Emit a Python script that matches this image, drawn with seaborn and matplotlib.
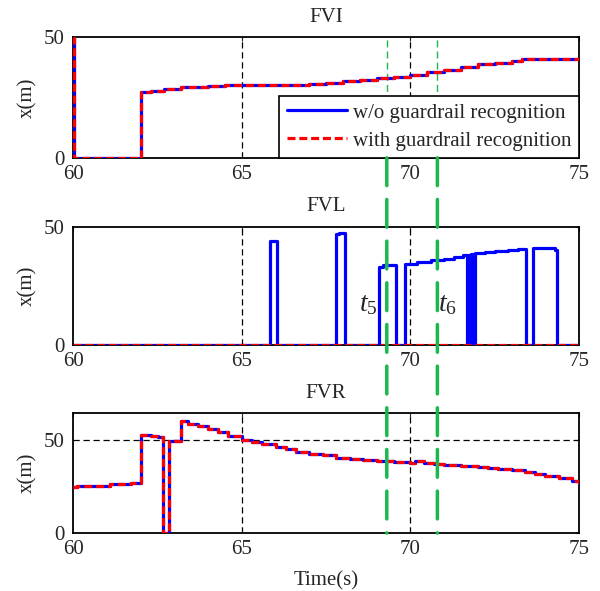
import numpy as np
import pandas as pd
import matplotlib.pyplot as plt
from matplotlib.patches import ConnectionPatch
import seaborn as sns

#%% data

# FVI (both series identical)
fvi_time = [60.0, 60.02, 62.0, 62.3, 62.7, 63.2, 63.5, 64.0, 64.5, 65.2, 66.0,
            67.0, 67.5, 68.0, 68.5, 69.0, 69.5, 70.0, 70.5, 71.0, 71.5, 72.0,
            72.5, 73.0, 73.3, 75.0]
fvi_x = [50.0, 0.0, 27.2, 27.8, 28.5, 29.2, 29.5, 29.8, 30.0, 30.2, 30.2,
         30.4, 31.0, 31.8, 32.4, 33.0, 33.7, 34.5, 35.5, 36.6, 37.7, 38.7,
         39.5, 40.3, 40.8, 40.8]

# FVL without guardrail recognition
fvl_time = [60.0, 65.85, 66.05, 67.79, 67.87, 68.07, 69.07, 69.2, 69.58,
            69.83, 70.2, 70.6, 71.0, 71.3, 71.55, 71.67, 71.72, 71.76, 71.80,
            71.85, 71.91, 72.2, 72.5, 72.9, 73.2, 73.43, 73.63, 74.3, 74.36, 75.0]
fvl_x_wo = [0.0, 43.9, 0.0, 46.7, 47.2, 0.0, 33.1, 33.6, 0.0,
            34.4, 35.0, 35.7, 36.5, 37.2, 38.0, 0.0, 38.2, 0.0, 38.5,
            0.0, 38.9, 39.3, 39.7, 40.2, 40.7, 0.0, 41.0, 40.3, 0.0, 0.0]
# FVL with guardrail recognition
fvl_time_with = [60.0, 75.0]
fvl_x_with = [0.0, 0.0]

# FVR (both series identical)
fvr_time = [60.0, 60.1, 61.1, 61.7, 62.0, 62.3, 62.5, 62.67, 62.83, 63.0,
            63.21, 63.4, 63.7, 64.0, 64.3, 64.6, 65.0, 65.3, 65.6, 66.0, 66.3,
            66.6, 67.0, 67.4, 67.8, 68.2, 68.6, 69.0, 69.5, 70.0, 70.15, 70.4,
            70.7, 71.0, 71.5, 72.0, 72.3, 72.6, 73.0, 73.4, 73.7, 74.0, 74.4,
            74.8, 75.0]
fvr_x = [24.6, 25.3, 26.0, 26.8, 52.7, 51.8, 51.2, 0.0, 49.5, 49.0,
         59.8, 58.5, 57.0, 55.4, 53.9, 52.0, 50.0, 48.8, 47.5, 45.8, 44.7,
         43.6, 42.5, 41.5, 40.3, 39.8, 39.2, 38.5, 38.0, 37.3, 38.5, 37.5,
         37.0, 36.5, 36.0, 35.6, 35.0, 34.4, 33.8, 32.8, 31.5, 30.3, 29.2,
         27.8, 26.5]

ref_times = [65, 70]      # black dashed reference lines
t_marks = [69.3, 70.8]    # t5, t6
t_labels = ["$t_5$", "$t_6$"]
fvr_ref = 50

titles = ["FVI", "FVL", "FVR"]
ylims = [(0, 50), (0, 50), (0, 64)]

#%% style

sns.set_style("white")
plt.rcParams['font.family'] = ['Liberation Serif', 'DejaVu Serif']
plt.rcParams['mathtext.fontset'] = 'custom'
plt.rcParams['mathtext.rm'] = 'Liberation Serif'
plt.rcParams['mathtext.it'] = 'Liberation Serif:italic'
plt.rcParams['font.size'] = 15

blue = (0, 0, 1)
red = (1, 0, 0)
green = (0.1, 0.72, 0.3)
fs = 15

fig = plt.figure(figsize=(6, 5.91), dpi=100)
ax1 = fig.add_axes([0.122, 0.733, 0.843, 0.204])
ax2 = fig.add_axes([0.122, 0.416, 0.843, 0.2007])
ax3 = fig.add_axes([0.122, 0.098, 0.843, 0.2025])
axes = [ax1, ax2, ax3]

wo = dict(color=blue, linewidth=2.3, drawstyle="steps-post", estimator=None, sort=False)
wi = dict(color=red, linewidth=2.3, drawstyle="steps-post", estimator=None, sort=False,
          linestyle=(0, (2.5, 1.2)))

sns.lineplot(x=fvi_time, y=fvi_x, ax=ax1, label="w/o guardrail recognition", zorder=3, **wo)
sns.lineplot(x=fvi_time, y=fvi_x, ax=ax1, label="with guardrail recognition", zorder=4, **wi)

sns.lineplot(x=fvl_time, y=fvl_x_wo, ax=ax2, zorder=3, **wo)
sns.lineplot(x=fvl_time_with, y=fvl_x_with, ax=ax2, zorder=4, **wi)

sns.lineplot(x=fvr_time, y=fvr_x, ax=ax3, zorder=3, **wo)
sns.lineplot(x=fvr_time, y=fvr_x, ax=ax3, zorder=4, **wi)

for ax, title, yl in zip(axes, titles, ylims):
    for t in ref_times:
        ax.axvline(t, color="k", linewidth=0.9, linestyle=(0, (5, 3)), zorder=2)
    ax.set_xlim(60, 75)
    ax.set_ylim(*yl)
    ax.set_xticks([60, 65, 70, 75])
    ax.set_yticks([0, 50])
    ax.set_title(title, fontsize=fs, pad=11)
    ax.set_ylabel("x(m)", fontsize=fs, labelpad=4)
    ax.tick_params(direction="in", length=3, width=0.8, top=True, right=True,
                   labelsize=fs)
    ax.tick_params(axis="x", pad=5)
    ax.tick_params(axis="y", pad=6.5)
    for sp in ax.spines.values():
        sp.set_color("k")
        sp.set_linewidth(1.3)
    if ax.get_legend() is not None and ax is not ax1:
        ax.get_legend().remove()

ax3.axhline(fvr_ref, color="k", linewidth=0.9, linestyle=(0, (5, 3)), zorder=2)
ax3.set_xlabel("Time(s)", fontsize=fs, labelpad=9)

# thin green markers inside the top panel
for t in t_marks:
    ax1.axvline(t, color=green, linewidth=1.0, linestyle=(0, (5, 3)), zorder=1)

leg = ax1.legend(loc="lower right", borderaxespad=0, fontsize=fs, frameon=True,
                 fancybox=False, framealpha=1, edgecolor="k", handlelength=2.9,
                 handletextpad=0.3, labelspacing=0.4, borderpad=0.35)
leg.get_frame().set_linewidth(1.2)
leg.set_zorder(5)

# thick green markers running from the top panel down through the bottom one
for t, lab, side in zip(t_marks, t_labels, ["right", "left"]):
    con = ConnectionPatch(xyA=(t, 0), coordsA=ax1.transData,
                          xyB=(t, 0), coordsB=ax3.transData,
                          color=green, linewidth=2.5, linestyle=(0, (8, 4)), zorder=10)
    fig.add_artist(con)
    tx = t - 0.27 if side == "right" else t + 0.02
    ax2.text(tx, 17, lab, fontsize=20, ha=side, va="center")

fig.savefig("out.png", dpi=100)
